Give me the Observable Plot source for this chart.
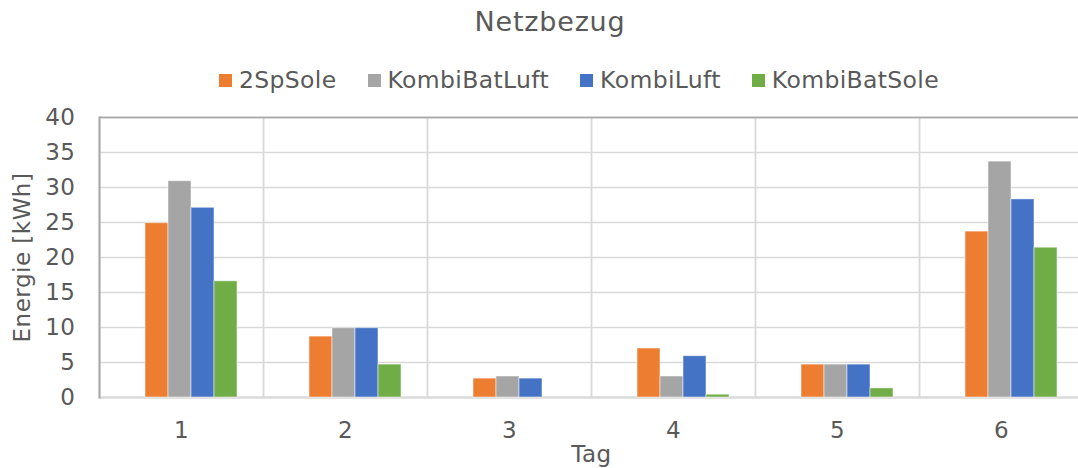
<!DOCTYPE html>
<html>
<head>
<meta charset="utf-8">
<script src="https://cdn.jsdelivr.net/npm/d3@7"></script>
<script src="https://cdn.jsdelivr.net/npm/@observablehq/plot@0.6"></script>
<style>
  html, body { margin: 0; padding: 0; background: #fff; overflow: hidden; }
  body { font-family: "DejaVu Sans", Verdana, sans-serif; color: #595959; }
  #wrap { position: relative; width: 1078px; height: 468px; overflow: hidden; }
  #chart { position: absolute; left: 0; top: 0; width: 1085px; }
  #chart svg { max-width: none !important; }
  #title { position: absolute; top: 0; left: 0; width: 1100px; text-align: center;
           font-size: 27px; line-height: 44px; letter-spacing: 0.8px; color: #595959; }
  #legend { position: absolute; top: 66px; left: 219px; height: 28px; display: flex;
            align-items: center; font-size: 23.5px; letter-spacing: 0.35px; color: #595959; white-space: nowrap; }
  #legend .item { display: flex; align-items: center; margin-right: 31px; }
  #legend .sw { width: 13px; height: 13px; margin-right: 7px; }
  #chart text { letter-spacing: 0.5px; }
</style>
</head>
<body>
<div id="wrap">
  <div id="chart"></div>
  <div id="title"></div>
  <div id="legend"></div>
</div>
<script>
const titel = "Netzbezug";
const tage = ["1", "2", "3", "4", "5", "6"];
const serien = ["2SpSole", "KombiBatLuft", "KombiLuft", "KombiBatSole"];
const werte2SpSole      = [24.9, 8.7, 2.7, 7.0, 4.7, 23.7];
const werteKombiBatLuft = [30.9, 9.9, 3.0, 3.0, 4.7, 33.7];
const werteKombiLuft    = [27.1, 9.9, 2.7, 5.9, 4.7, 28.3];
const werteKombiBatSole = [16.6, 4.7, 0.0, 0.4, 1.3, 21.4];
const farben = ["#ED7D31", "#A5A5A5", "#4472C4", "#70AD47"];
const yTicks = [0, 5, 10, 15, 20, 25, 30, 35, 40];
const xLabel = "Tag";
const yLabel = "Energie [kWh]";

const reihen = [werte2SpSole, werteKombiBatLuft, werteKombiLuft, werteKombiBatSole];
const daten = [];
tage.forEach((t, i) => serien.forEach((s, j) => daten.push({tag: t, serie: s, wert: reihen[j][i]})));

const marks = [
  Plot.frame({stroke: "#d9d9d9", strokeWidth: 1.5}),
  Plot.gridY(yTicks, {stroke: "#d9d9d9", strokeOpacity: 1, strokeWidth: 1.5}),
  Plot.ruleY([0], {stroke: "#d9d9d9", strokeWidth: 2}),
  Plot.ruleY([40], {stroke: "#a6a6a6", strokeWidth: 1.5}),
  Plot.barY(daten, {fx: "tag", x: "serie", y: "wert", fill: "serie",
                    stroke: "#ffffff", strokeOpacity: 0.5, strokeWidth: 1}),
  Plot.axisY(yTicks, {tickSize: 0, tickPadding: 24, fontSize: 23, label: yLabel, labelArrow: "none",
                      labelAnchor: "center", labelOffset: 86, color: "#595959"}),
  Plot.axisFx({anchor: "bottom", tickSize: 0, tickPadding: 24, fontSize: 23, label: xLabel, labelArrow: "none",
               labelAnchor: "center", labelOffset: 64, color: "#595959"})
];
try {
  marks.push(Plot.frame({anchor: "left", facet: "super", stroke: "#a6a6a6", strokeWidth: 2}));
} catch (e) {}

const plot = Plot.plot({
  width: 1085,
  height: 468,
  marginTop: 117,
  marginBottom: 71,
  marginLeft: 97,
  marginRight: 0,
  style: {fontFamily: "DejaVu Sans, Verdana, sans-serif", fontSize: "23px", color: "#595959",
          background: "#fff", maxWidth: "none"},
  fx: {domain: tage, padding: 0},
  x: {domain: serien, padding: 0, insetLeft: 46, insetRight: 26, axis: null},
  y: {domain: [0, 40], axis: null},
  color: {domain: serien, range: farben},
  marks
});
document.getElementById("chart").appendChild(plot);

document.getElementById("title").textContent = titel;
const farbe = plot.scale("color");
const leg = d3.select("#legend");
serien.forEach((s, j) => {
  const it = leg.append("div").attr("class", "item");
  it.append("div").attr("class", "sw").style("background", farbe.range[j]);
  it.append("span").text(s);
});
</script>
</body>
</html>
